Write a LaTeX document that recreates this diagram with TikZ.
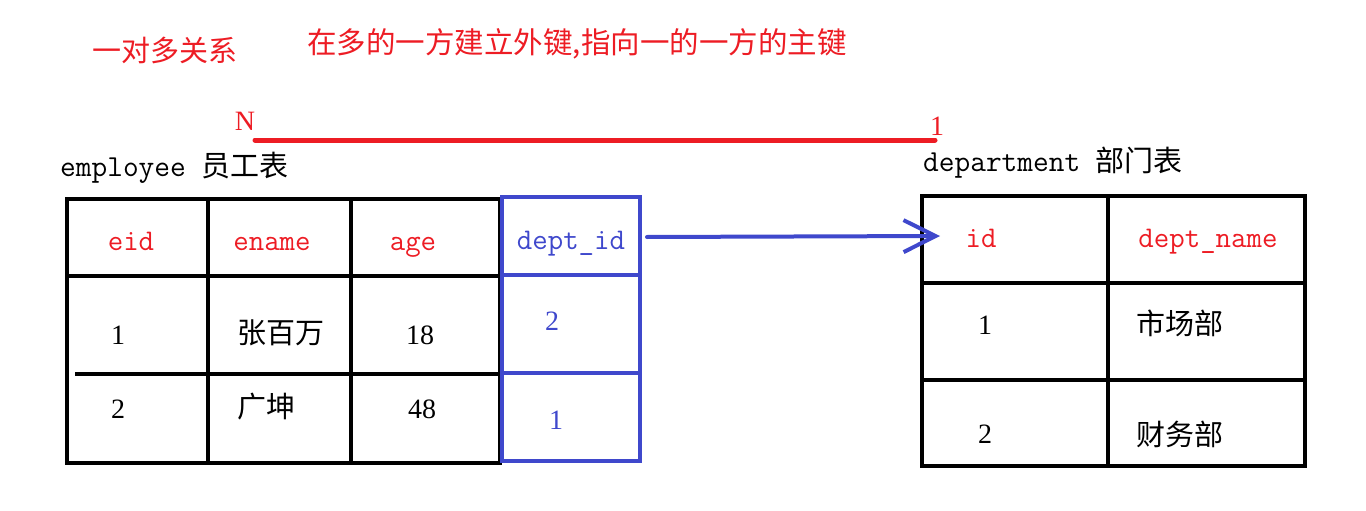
\documentclass[tikz,border=0pt]{standalone}
\usepackage{fontspec}
\setmainfont{Liberation Serif}
\newfontfamily\cjk{Noto Sans CJK SC}
\usetikzlibrary{arrows.meta}
\definecolor{pred}{RGB}{237,28,36}
\definecolor{pblue}{RGB}{63,72,204}
\tikzset{
  cell/.style={inner sep=0pt, anchor=center},
  lab/.style={inner sep=0pt, anchor=base, font=\fontsize{30}{31}\ttfamily},
  num/.style={cell, font=\fontsize{28}{30}\selectfont},
  cn/.style={cell, font=\fontsize{29}{30}\cjk},
  tline/.style={line width=4pt, black},
  bline/.style={line width=4pt, pblue},
}
\begin{document}
\begin{tikzpicture}[x=1pt,y=-1pt]
\useasboundingbox (0,0) rectangle (1366,511);
% titles
\node[cell, text=pred, font=\fontsize{29}{31}\cjk] (t1) at (165,50) {一对多关系};
\node[cell, text=pred, font=\fontsize{29.5}{31}\cjk] (t2) at (577,44) {在多的一方建立外键,指向一的一方的主键};
% relation line
\coordinate (ra) at (255,140);
\coordinate (rb) at (935,140);
\draw[line width=5pt, pred, line cap=round] (ra) -- (rb);
\node[cell, text=pred, font=\fontsize{28}{30}\selectfont] (nN) at (245,121) {N};
\node[cell, text=pred, font=\fontsize{28}{30}\selectfont] (n1) at (937,126) {1};
% table captions
\node[inner sep=0pt, anchor=base west, font=\fontsize{30.5}{31}\ttfamily] (cap1) at (60,176) {employee {\cjk\fontsize{29}{30}\selectfont 员工表}};
\node[inner sep=0pt, anchor=base west, font=\fontsize{30.5}{31}\ttfamily] (cap2) at (923,171) {department {\cjk\fontsize{29}{30}\selectfont 部门表}};
% employee table
\draw[tline] (67,199) rectangle (500,463);
\draw[tline] (208,199) -- (208,463);
\draw[tline] (351,199) -- (351,463);
\draw[tline] (67,276) -- (500,276);
\draw[tline] (75,374) -- (500,374);
% blue column
\draw[bline] (502,197) rectangle (640,461);
\draw[bline] (502,275) -- (642,275);
\draw[bline] (502,373) -- (640,373);
% employee header
\node[lab, text=pred] (eid) at (131,250) {eid};
\node[lab, text=pred] (ename) at (272,250) {ename};
\node[lab, text=pred] (age) at (413,250) {age};
\node[lab, text=pblue] (did) at (571,249) {dept\_id};
% employee rows
\node[num] (e11) at (118,335) {1};
\node[cn] (e12) at (281,333) {张百万};
\node[num] (e13) at (420,335) {18};
\node[num, text=pblue] (e14) at (552,321) {2};
\node[num] (e21) at (118,409) {2};
\node[cn] (e22) at (266,407) {广坤};
\node[num] (e23) at (422,409) {48};
\node[num, text=pblue] (e24) at (556,420) {1};
% department table
\draw[tline] (922,196) rectangle (1305,466);
\draw[tline] (1108,196) -- (1108,466);
\draw[tline] (922,283) -- (1307,283);
\draw[tline] (922,380) -- (1305,380);
\node[lab, text=pred] (id) at (981,247) {id};
\node[lab, text=pred] (dname) at (1208,247) {dept\_name};
\node[num] (d11) at (985,325) {1};
\node[cn] (d12) at (1180,323) {市场部};
\node[num] (d21) at (985,434) {2};
\node[cn] (d22) at (1180,434) {财务部};
% foreign key arrow
\coordinate (fa) at (647,237);
\coordinate (fb) at (940,236);
\draw[bline, line cap=round, -{Straight Barb[length=32pt, width=32pt, line width=4pt]}] (fa) -- (fb);
\end{tikzpicture}
\end{document}
